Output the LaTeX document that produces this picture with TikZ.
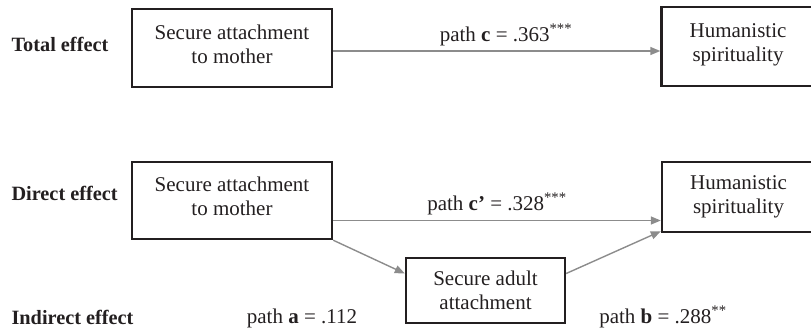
\documentclass[tikz,border=0pt]{standalone}
\usepackage{fontspec}
\setmainfont{Liberation Serif}
\usetikzlibrary{arrows.meta}
\definecolor{ink}{HTML}{231F20}
\definecolor{linegray}{HTML}{8C8C8C}

\begin{document}
\begin{tikzpicture}
  [x=1pt, y=-1pt,
   every node/.style={font=\fontsize{21}{24}\selectfont, text=ink},
   box/.style={draw=ink, line width=2.4pt, align=center, inner sep=0pt},
   effect/.style={anchor=base west, font=\fontsize{20.3}{24}\selectfont\bfseries},
   pathlabel/.style={anchor=base},
   arr/.style={draw=linegray, line width=1.4pt, -{Triangle[length=10pt,width=8pt]}}]
  \path[use as bounding box, clip] (0,0) rectangle (811,330);

  % total effect
  \node[effect] (total) at (8,51) {Total effect};
  \node[box, minimum width=200pt, minimum height=78pt] (tmother) at (232,48)
    {Secure attachment\\to mother\\[-16pt]};
  \node[box, minimum width=153pt, minimum height=79pt] (tspirit) at (738,46.5)
    {Humanistic\\spirituality\\[-16pt]};
  \draw[arr] ([yshift=-3pt]tmother.east) -- ([yshift=-3pt]tmother.east -| tspirit.west);
  \node[pathlabel] (pathc) at (506,41) {path \textbf{c} = .363\textsuperscript{***}};

  % direct and indirect effect
  \node[effect] (direct) at (8,200) {Direct effect};
  \node[effect] (indirect) at (8,324) {Indirect effect};
  \node[box, minimum width=200pt, minimum height=77pt] (dmother) at (232,200.5)
    {Secure attachment\\to mother\\[-16pt]};
  \node[box, minimum width=153pt, minimum height=70pt] (dspirit) at (738.5,197)
    {Humanistic\\spirituality};
  \node[box, minimum width=159pt, minimum height=65pt] (adult) at (485.5,290.5)
    {Secure adult\\attachment};
  \draw[arr] ([yshift=-20pt]dmother.east) -- ([yshift=-20pt]dmother.east -| dspirit.west);
  \draw[arr] (dmother.south east) -- ([yshift=17pt]adult.west);
  \draw[arr] ([yshift=17pt]adult.east) -- ([yshift=2pt]dspirit.south west);
  \node[pathlabel] (pathcp) at (497,210) {path \textbf{c’} = .328\textsuperscript{***}};
  \node[pathlabel] (patha) at (302,323) {path \textbf{a} = .112};
  \node[pathlabel] (pathb) at (663,323) {path \textbf{b} = .288\textsuperscript{**}};
\end{tikzpicture}
\end{document}
